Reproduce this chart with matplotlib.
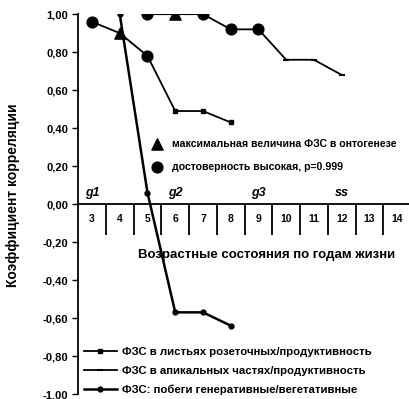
import numpy as np
import matplotlib
matplotlib.use('Agg')
import matplotlib.pyplot as plt
from matplotlib.ticker import FixedLocator, FuncFormatter, NullFormatter

plt.rcParams['font.family'] = ['Liberation Sans', 'DejaVu Sans']
plt.rcParams['font.weight'] = 'bold'

# возрастные состояния (годы жизни)
ages = [3, 4, 5, 6, 7, 8, 9, 10, 11, 12, 13, 14]

# ФЗС в листьях розеточных / продуктивность
ros_x = [3, 4, 5, 6, 7, 8]
ros_y = [0.96, 0.90, 0.78, 0.49, 0.49, 0.43]
# ФЗС в апикальных частях / продуктивность
api_x = [5, 6, 7, 8, 9, 10, 11, 12]
api_y = [1.00, 1.00, 1.00, 0.92, 0.92, 0.76, 0.76, 0.68]
# ФЗС: побеги генеративные / вегетативные
sh_x = [4, 5, 6, 7, 8]
sh_y = [1.00, 0.06, -0.57, -0.57, -0.64]

# точки с максимальной величиной ФЗС и с высокой достоверностью
max_x = [4, 6]
max_y = [0.90, 1.00]
sig_x = [3, 5, 5, 7, 8, 9]
sig_y = [0.96, 0.78, 1.00, 1.00, 0.92, 0.92]

stages = ['g1', 'g2', 'g3', 'ss']
stage_x = [3, 6, 9, 12]

labels = ['ФЗС в листьях розеточных/продуктивность',
          'ФЗС в апикальных частях/продуктивность',
          'ФЗС: побеги генеративные/вегетативные']


def fmt_y(v, p):
    if abs(v) < 1e-9:
        v = 0.0
    return ('%.2f' % v).replace('.', ',')


fig = plt.figure(figsize=(4.09, 3.99), dpi=100)
ax = fig.add_axes([0.191, 0.0125, 0.814, 0.952])

l1, = ax.plot(ros_x, ros_y, color='black', lw=1.3, marker='s', ms=3)
l2, = ax.plot(api_x, api_y, color='black', lw=1.3, marker='_', ms=4, mew=1.5)
l3, = ax.plot(sh_x, sh_y, color='black', lw=1.8, marker='o', ms=3.5)
tri = ax.scatter(max_x, max_y, marker='^', s=65, color='black', zorder=5)
circ = ax.scatter(sig_x, sig_y, marker='o', s=60, color='black', zorder=5)

for s, x in zip(stages, stage_x):
    ax.text(x, 0.06, s, ha='center', va='center', fontsize=9,
            style='italic', fontweight='bold')

ax.set_xlim(2.5, 14.5)
ax.set_ylim(-1.0, 1.0)
for side in ['top', 'right']:
    ax.spines[side].set_visible(False)
ax.spines['bottom'].set_position(('data', 0))
ax.spines['left'].set_linewidth(1.3)
ax.spines['bottom'].set_linewidth(1.3)

ax.xaxis.set_major_locator(FixedLocator(np.arange(3.5, 14.0, 1.0)))
ax.xaxis.set_major_formatter(NullFormatter())
ax.xaxis.set_minor_locator(FixedLocator(ages))
ax.xaxis.set_minor_formatter(FuncFormatter(lambda v, p: str(int(round(v)))))
ax.tick_params(axis='x', which='major', direction='out', length=22, width=1.3)
ax.tick_params(axis='x', which='minor', length=0, pad=7, labelsize=7.5)

ax.set_yticks(np.arange(-1.0, 1.01, 0.2))
ax.yaxis.set_major_formatter(FuncFormatter(fmt_y))
ax.tick_params(axis='y', direction='out', length=4, width=1.0, labelsize=8, pad=3)

ax.text(0.565, 0.366, 'Возрастные состояния по годам жизни', transform=ax.transAxes,
        ha='center', va='center', fontsize=9.5)
fig.text(0.032, 0.51, 'Коэффициент корреляции', rotation=90, ha='center',
         va='center', fontsize=10)

leg1 = fig.legend([l1, l2, l3], labels, loc='lower left',
                  bbox_to_anchor=(0.205, 0.01), frameon=False, fontsize=8.2,
                  handlelength=2.9, handletextpad=0.45, labelspacing=0.75,
                  borderpad=0, borderaxespad=0)
leg2 = fig.legend([tri, circ], ['максимальная величина ФЗС в онтогенезе',
                                'достоверность высокая, p=0.999'],
                  loc='upper left', bbox_to_anchor=(0.37, 0.652), frameon=False,
                  fontsize=7.6, handlelength=1, handletextpad=0.95, labelspacing=1.25,
                  borderpad=0, borderaxespad=0, scatterpoints=1)

fig.savefig('out.png', dpi=100)
